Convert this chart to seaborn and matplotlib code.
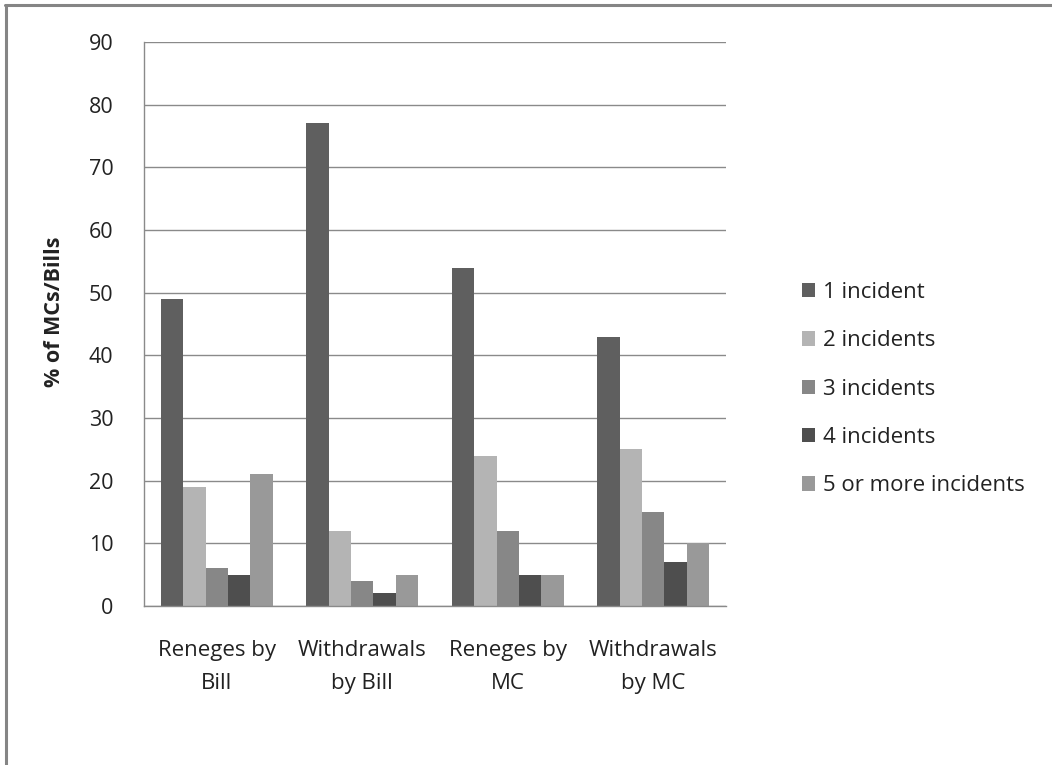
import matplotlib
matplotlib.use("Agg")
import matplotlib.pyplot as plt
from matplotlib.lines import Line2D
from matplotlib.patches import Patch
import seaborn as sns
import pandas as pd

categories = ["Reneges by\nBill", "Withdrawals\nby Bill", "Reneges by\nMC", "Withdrawals\nby MC"]
series = ["1 incident", "2 incidents", "3 incidents", "4 incidents", "5 or more incidents"]
values = {
    "1 incident":          [49, 77, 54, 43],
    "2 incidents":         [19, 12, 24, 25],
    "3 incidents":         [6, 4, 12, 15],
    "4 incidents":         [5, 2, 5, 7],
    "5 or more incidents": [21, 5, 5, 10],
}
colors = ["#5f5f5f", "#b4b4b4", "#878787", "#4e4e4e", "#999999"]
yticks = [0, 10, 20, 30, 40, 50, 60, 70, 80, 90]

rows = []
for s in series:
    for c, v in zip(categories, values[s]):
        rows.append({"category": c, "series": s, "value": v})
df = pd.DataFrame(rows)

sns.set_theme(style="white")
plt.rcParams["font.family"] = ["Open Sans", "DejaVu Sans"]

fig = plt.figure(figsize=(10.52, 7.65), dpi=100)
ax = fig.add_axes([144 / 1052, 1 - 606 / 765, (726 - 144) / 1052, (606 - 42) / 765])

sns.barplot(data=df, x="category", y="value", hue="series", order=categories,
            hue_order=series, palette=colors, saturation=1, width=0.77,
            linewidth=0, errorbar=None, ax=ax, legend=False)

grid_c = "#8a8a8a"
text_c = "#222222"
ax.set_ylim(0, 90)
ax.set_xlim(-0.5, len(categories) - 0.5)
ax.set_yticks(yticks)
ax.yaxis.grid(True, color=grid_c, linewidth=1.0)
ax.set_axisbelow(True)
for side in ["top", "right"]:
    ax.spines[side].set_visible(False)
for side in ["left", "bottom"]:
    ax.spines[side].set_color(grid_c)
    ax.spines[side].set_linewidth(1.0)

# category ticks sit on group boundaries
ax.set_xticks([i - 0.5 for i in range(len(categories) + 1)])
ax.set_xticklabels([])
ax.tick_params(axis="x", direction="out", length=7, color=grid_c, width=1)
ax.tick_params(axis="y", direction="out", length=8, color=grid_c, width=1,
               labelsize=15.5, labelcolor=text_c, pad=14)
for i, c in enumerate(categories):
    ax.text(i, -5.4, c, ha="center", va="top", fontsize=16, color=text_c,
            linespacing=1.78, transform=ax.transData)

ax.set_xlabel("")
ax.set_ylabel("% of MCs/Bills", fontsize=15.5, fontweight="bold", color=text_c)
ax.yaxis.set_label_coords(-0.135, 0.521)

handles = [Patch(facecolor=col, edgecolor="none") for col in colors]
fig.legend(handles, series, loc="upper left", bbox_to_anchor=(782 / 1052, 1 - 262 / 765),
           frameon=False, fontsize=16, handlelength=0.6, handleheight=0.6,
           handletextpad=0.35, labelspacing=1.23, labelcolor=text_c)

# outer frame along the top and left edges
fig.add_artist(Line2D([5 / 1052, 1], [1 - 5 / 765, 1 - 5 / 765], color="#858585",
                      linewidth=2.2, transform=fig.transFigure))
fig.add_artist(Line2D([6 / 1052, 6 / 1052], [0, 1 - 5 / 765], color="#858585",
                      linewidth=2.2, transform=fig.transFigure))

fig.savefig("out.png", dpi=100, facecolor="white")
